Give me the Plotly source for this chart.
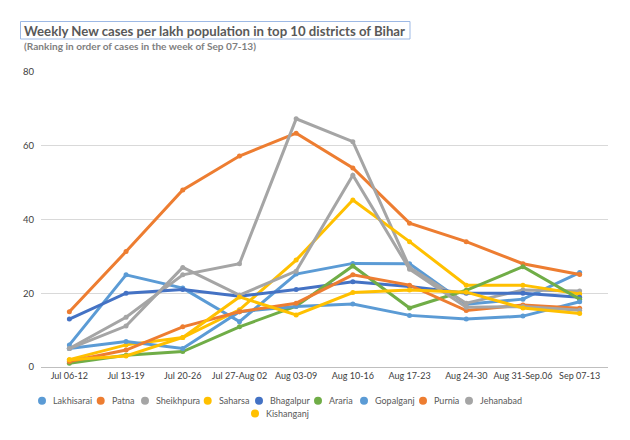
import plotly.graph_objects as go

weeks = ["Jul 06-12", "Jul 13-19", "Jul 20-26", "Jul 27-Aug 02", "Aug 03-09",
         "Aug 10-16", "Aug 17-23", "Aug 24-30", "Aug 31-Sep.06", "Sep 07-13"]

lakhisarai = [6, 25, 21.4, 12.3, 25.2, 28.1, 28, 17, 18.4, 25.6]
patna      = [15, 31.3, 48, 57.2, 63.4, 54, 39, 34, 28, 25.1]
sheikhpura = [5, 13.5, 25, 28, 67.3, 61.1, 27, 17.3, 20.9, 20.6]
saharsa    = [2, 6, 8, 15.5, 29, 45.3, 34, 22.2, 22.2, 19.8]
bhagalpur  = [13, 20, 21, 19.2, 21, 23.1, 21.8, 20, 20, 18.9]
araria     = [1, 3.2, 4.2, 10.9, 16.5, 27.4, 16, 20.8, 27.2, 18.4]
gopalganj  = [5, 6.9, 5, 15, 16.4, 17.1, 14, 13, 13.8, 17.7]
purnia     = [1.5, 4.6, 10.9, 15, 17.3, 25, 22.2, 15.3, 16.8, 15.9]
jehanabad  = [5, 11.1, 27, 19.5, 26, 52, 26.5, 16.2, 16.4, 15.4]
kishanganj = [2, 3, 8, 19, 14.1, 20.2, 20.9, 20.3, 16, 14.5]

names = ["Lakhisarai", "Patna", "Sheikhpura", "Saharsa", "Bhagalpur",
         "Araria", "Gopalganj", "Purnia", "Jehanabad", "Kishanganj"]
series = [lakhisarai, patna, sheikhpura, saharsa, bhagalpur,
          araria, gopalganj, purnia, jehanabad, kishanganj]
colors = ["#5B9BD5", "#ED7D31", "#A5A5A5", "#FFC000", "#4472C4",
          "#70AD47", "#5B9BD5", "#ED7D31", "#A5A5A5", "#FFC000"]

# page has an 8px body margin, so work in page pixels minus 8
OFF = 8
W, H = 630 - OFF, 440 - OFF
L, R, T, B = 41 - OFF, 630 - 608, 72 - OFF, 440 - 367
PW, PH = W - L - R, H - T - B

def px(x):
    return (x - OFF - L) / PW

def py(y):
    return (H - B - (y - OFF)) / PH

FONT = "Lato"

fig = go.Figure()
for name, vals, col in zip(names, series, colors):
    fig.add_trace(go.Scatter(
        x=weeks, y=vals, name=name, mode="lines+markers",
        line=dict(color=col, width=3),
        marker=dict(color=col, size=5),
        showlegend=False,
    ))

# title box and texts
fig.add_shape(type="rect", xref="paper", yref="paper",
              x0=px(20.5), x1=px(410), y0=py(39), y1=py(21.5),
              line=dict(color="#9DB9E5", width=1), fillcolor="rgba(0,0,0,0)")
fig.add_annotation(xref="paper", yref="paper", x=px(22), y=py(30.5),
                   xanchor="left", yanchor="middle", showarrow=False,
                   text="<b>Weekly New cases per lakh population in top 10 districts of Bihar</b>",
                   font=dict(family=FONT, size=13.2, color="#595959"))
fig.add_annotation(xref="paper", yref="paper", x=px(22), y=py(46.5),
                   xanchor="left", yanchor="middle", showarrow=False,
                   text="<b>(Ranking in order of cases in the week of Sep 07-13)</b>",
                   font=dict(family=FONT, size=10.1, color="#7F7F7F"))

# legend: circle + label for each district (page-pixel layout positions)
legend_pos = [(42, 400.7), (100.7, 400.7), (145, 400.7), (207.7, 400.7),
              (259, 400.7), (318, 400.7), (364, 400.7), (423, 400.7),
              (469, 400.7), (255, 413.5)]
rad = 4
for name, col, (cx, cy) in zip(names, colors, legend_pos):
    fig.add_shape(type="circle", xref="paper", yref="paper",
                  x0=px(cx - rad), x1=px(cx + rad),
                  y0=py(cy + rad), y1=py(cy - rad),
                  line=dict(width=0), fillcolor=col)
    fig.add_annotation(xref="paper", yref="paper", x=px(cx + 9), y=py(cy),
                       xanchor="left", yanchor="middle", showarrow=False,
                       text=name, font=dict(family=FONT, size=9, color="#595959"))

fig.update_layout(
    width=W, height=H,
    margin=dict(l=L, r=R, t=T, b=B, pad=0),
    paper_bgcolor="white", plot_bgcolor="white",
    font=dict(family=FONT, size=9, color="#595959"),
    showlegend=False,
    xaxis=dict(type="category", range=[-0.5, 9.5], showgrid=False,
               showline=True, linecolor="#BFBFBF", linewidth=1,
               ticks="", tickfont=dict(family=FONT, size=9, color="#404040"),
               fixedrange=True),
    yaxis=dict(range=[0, 80], dtick=20, showgrid=True, gridcolor="#D9D9D9",
               gridwidth=1, zeroline=False, showline=False, ticks="",
               tickfont=dict(family=FONT, size=9.5, color="#404040"),
               ticklabelstandoff=6, fixedrange=True),
)

fig.write_html("out.html")
